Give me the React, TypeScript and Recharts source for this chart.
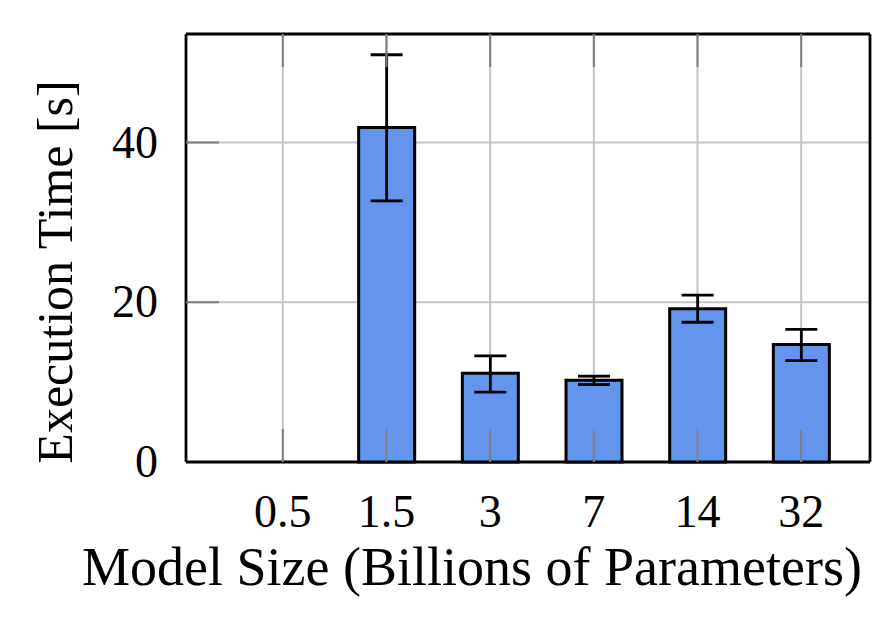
import React from "react";
import {
  BarChart,
  Bar,
  XAxis,
  YAxis,
  CartesianGrid,
  ErrorBar,
} from "recharts";

// model sizes (billions of parameters)
const sizes = ["0.5", "1.5", "3", "7", "14", "32"];
// mean execution time [s]
const times = [null, 41.9, 11.1, 10.25, 19.2, 14.7];
// error bar extents below / above the mean
const errLow = [null, 9.2, 2.35, 0.55, 1.7, 2.0];
const errHigh = [null, 9.1, 2.2, 0.5, 1.7, 1.9];
const yTicks = [0, 20, 40];

const data = sizes.map((s, i) => ({
  size: s,
  time: times[i],
  err: times[i] == null ? null : [errLow[i], errHigh[i]],
}));

const W = 896;
const H = 630;
const LEFT = 186;
const TOP = 34;
const RIGHT = 870;
const BOTTOM = 462;
const TICK_LEN = 33;
const FONT = "'Liberation Serif', 'DejaVu Serif', serif";
const TICK_COLOR = "#7f7f7f";

function BottomTick(props: any) {
  const { x, payload } = props;
  return (
    <g>
      <line x1={x} x2={x} y1={BOTTOM} y2={BOTTOM - TICK_LEN} stroke={TICK_COLOR} strokeWidth={2} />
      <text x={x} y={527} textAnchor="middle" fontFamily={FONT} fontSize={46} fill="#000">
        {payload.value}
      </text>
    </g>
  );
}

function TopTick(props: any) {
  const { x } = props;
  return <line x1={x} x2={x} y1={TOP} y2={TOP + TICK_LEN} stroke={TICK_COLOR} strokeWidth={2} />;
}

function LeftTick(props: any) {
  const { y, payload } = props;
  return (
    <g>
      {payload.value !== 0 && (
        <line x1={LEFT} x2={LEFT + TICK_LEN} y1={y} y2={y} stroke={TICK_COLOR} strokeWidth={2} />
      )}
      <text x={158} y={y + 15} textAnchor="end" fontFamily={FONT} fontSize={46} fill="#000">
        {payload.value}
      </text>
    </g>
  );
}

function RightTick(props: any) {
  const { y, payload } = props;
  if (payload.value === 0) return <g />;
  return <line x1={RIGHT} x2={RIGHT - TICK_LEN} y1={y} y2={y} stroke={TICK_COLOR} strokeWidth={2} />;
}

export default function App() {
  return (
    <div style={{ position: "absolute", left: 0, top: 0, width: W, height: H, background: "#fff", fontFamily: FONT }}>
      <BarChart
        width={W}
        height={H}
        data={data}
        margin={{ top: TOP - 1, right: W - RIGHT - 1, left: 0, bottom: 0 }}
      >
        <CartesianGrid stroke="#c4c4c4" strokeWidth={2} />
        <XAxis
          dataKey="size"
          height={H - BOTTOM}
          padding={{ left: 45, right: 17 }}
          axisLine={{ stroke: "#000", strokeWidth: 2.8 }}
          tickLine={false}
          tick={<BottomTick />}
          interval={0}
          zIndex={200}
          label={{
            value: "Model Size (Billions of Parameters)",
            position: "insideBottom",
            offset: 0,
            content: () => (
              <text x={472} y={585} textAnchor="middle" fontFamily={FONT} fontSize={54} fill="#000">
                Model Size (Billions of Parameters)
              </text>
            ),
          }}
        />
        <XAxis
          xAxisId="top"
          dataKey="size"
          orientation="top"
          height={1}
          padding={{ left: 45, right: 17 }}
          axisLine={{ stroke: "#000", strokeWidth: 2.8 }}
          tickLine={false}
          tick={<TopTick />}
          interval={0}
          zIndex={200}
        />
        <YAxis
          width={LEFT}
          domain={[0, 53.6]}
          ticks={yTicks}
          axisLine={{ stroke: "#000", strokeWidth: 2.8 }}
          tickLine={false}
          tick={<LeftTick />}
          zIndex={200}
          label={{
            value: "Execution Time [s]",
            content: () => (
              <text
                x={72}
                y={272}
                transform="rotate(-90 72 272)"
                textAnchor="middle"
                fontFamily={FONT}
                fontSize={50}
                fill="#000"
              >
                Execution Time [s]
              </text>
            ),
          }}
        />
        <YAxis
          yAxisId="right"
          orientation="right"
          width={1}
          domain={[0, 53.6]}
          ticks={yTicks}
          axisLine={{ stroke: "#000", strokeWidth: 2.8 }}
          tickLine={false}
          tick={<RightTick />}
          zIndex={200}
        />
        <Bar
          dataKey="time"
          fill="#6495ed"
          stroke="#000"
          strokeWidth={3}
          barSize={56}
          isAnimationActive={false}
        >
          <ErrorBar dataKey="err" width={16} stroke="#000" strokeWidth={2.8} direction="y" />
        </Bar>
      </BarChart>
    </div>
  );
}
